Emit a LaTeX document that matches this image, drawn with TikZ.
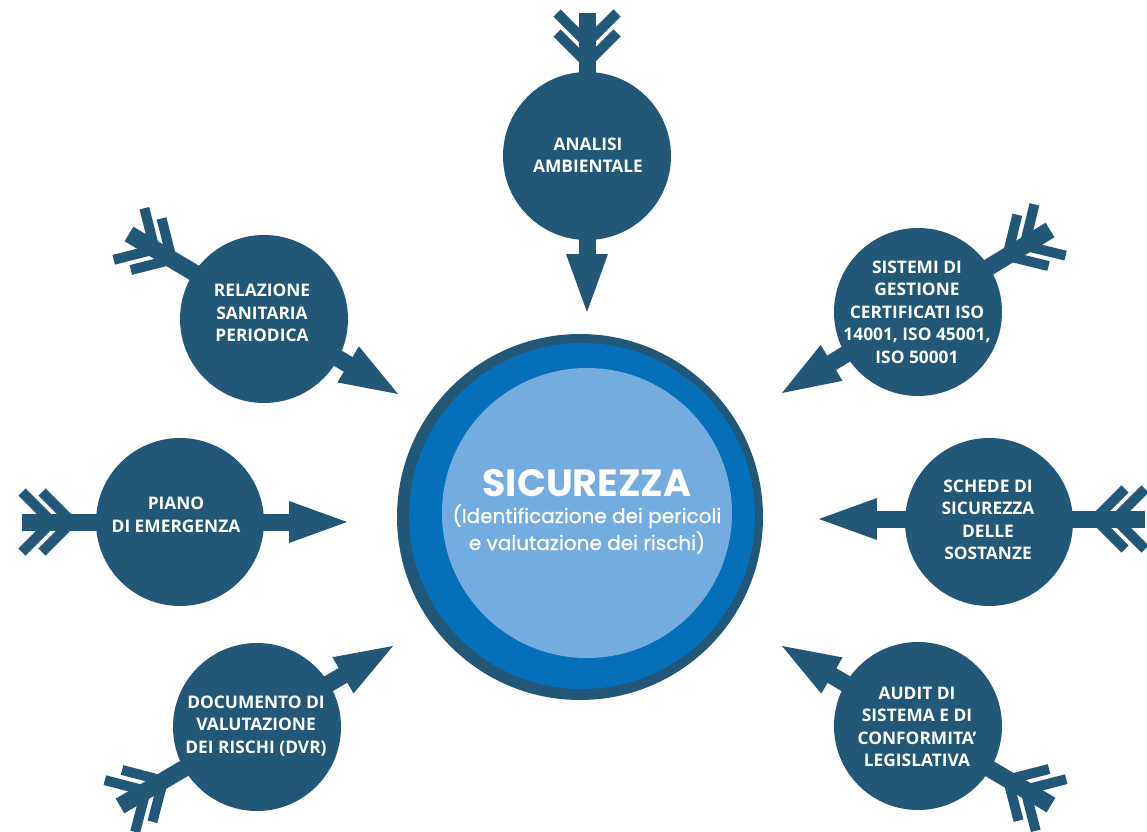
\documentclass[tikz,border=0pt]{standalone}
\usepackage{fontspec}
\setmainfont{Open Sans}
\newfontfamily\popfont{Poppins}
\newfontfamily\popsub{Poppins}[FakeBold=0.8]
\usetikzlibrary{calc}
\definecolor{nodeblue}{RGB}{34,87,120}
\definecolor{ringblue}{RGB}{5,112,185}
\definecolor{lightblue}{RGB}{116,172,223}
\tikzset{
  satellite/.style={circle, fill=nodeblue, minimum size=126pt, inner sep=0pt},
  sattext/.style={text=white, align=center, inner sep=0pt,
    font=\bfseries\fontsize{13}{16.9}\selectfont},
  arrowbody/.style={fill=nodeblue},
  fletch/.style={draw=nodeblue, line width=7.5pt, line join=miter, line cap=butt},
  subline/.style={text=white, anchor=base, inner sep=0pt, font=\popsub\fontsize{15}{18}\selectfont},
}
\newcommand\fletchedarrow[2]{%
  \path let \p1=($(#2)-(#1)$) in \pgfextra{%
    \pgfmathsetmacro\tmpang{atan2(\y1,\x1)}%
    \pgfmathsetmacro\tmplen{veclen(\x1,\y1)/0.75}%
    \global\let\Arrang\tmpang \global\let\Arrlen\tmplen};
  \begin{scope}[shift={(#1)}, rotate=\Arrang, x=0.75pt, y=0.75pt]
    \fill[arrowbody] (0,-8.5) rectangle (\Arrlen-57,8.5);
    \fill[arrowbody] (\Arrlen-58,-21) -- (\Arrlen,0) -- (\Arrlen-58,21) -- cycle;
    \draw[fletch] (0,30) -- (30,0) -- (0,-30);
    \draw[fletch] (20,30) -- (50,0) -- (20,-30);
  \end{scope}}
\begin{document}
\begin{tikzpicture}[x=0.75pt, y=-0.75pt]
  \useasboundingbox (0,0) rectangle (1147,832);
  % arrow end points
  \coordinate (analisi-tail) at (587,13);    \coordinate (analisi-tip) at (587,312);
  \coordinate (relazione-tail) at (129,234); \coordinate (relazione-tip) at (398,394);
  \coordinate (sistemi-tail) at (1050,230);  \coordinate (sistemi-tip) at (782,393);
  \coordinate (piano-tail) at (22,522);      \coordinate (piano-tip) at (347,522);
  \coordinate (schede-tail) at (1145,519);   \coordinate (schede-tip) at (819,519);
  \coordinate (documento-tail) at (120,806); \coordinate (documento-tip) at (393,646);
  \coordinate (audit-tail) at (1051,805);    \coordinate (audit-tip) at (782,646);
  \begin{scope}
    \clip (0,0) rectangle (1147,832);
    \fletchedarrow{analisi-tail}{analisi-tip}
    \fletchedarrow{relazione-tail}{relazione-tip}
    \fletchedarrow{sistemi-tail}{sistemi-tip}
    \fletchedarrow{piano-tail}{piano-tip}
    \fletchedarrow{schede-tail}{schede-tip}
    \fletchedarrow{documento-tail}{documento-tip}
    \fletchedarrow{audit-tail}{audit-tip}
  \end{scope}
  % central circle
  \node[circle, fill=nodeblue, minimum size=274.5pt, inner sep=0pt] (outer) at (580,517) {};
  \node[circle, fill=ringblue, minimum size=259.5pt, inner sep=0pt] (ring) at (582,516) {};
  \node[circle, fill=lightblue, minimum size=217.5pt, inner sep=0pt] (core) at (587,513) {};
  \node[text=white, anchor=base, inner sep=0pt, font=\popfont\bfseries\fontsize{28.5}{30}\selectfont] (title) at (587,496) {SICUREZZA};
  \node[subline] (sub1) at (587,523) {(Identificazione dei pericoli};
  \node[subline] (sub2) at (587,550) {e valutazione dei rischi)};
  % satellites
  \node[satellite] (analisi) at (587,156) {};
  \node[sattext] (analisi-t) at (588,155) {ANALISI\\AMBIENTALE};
  \node[satellite] (relazione) at (264,319) {};
  \node[sattext] (relazione-t) at (262,313) {RELAZIONE\\SANITARIA\\PERIODICA};
  \node[satellite] (sistemi) at (918,312) {};
  \node[sattext] (sistemi-t) at (917,312) {SISTEMI DI\\GESTIONE\\CERTIFICATI ISO\\14001, ISO 45001,\\ISO 50001};
  \node[satellite] (piano) at (180,522) {};
  \node[sattext] (piano-t) at (176,515) {PIANO\\DI EMERGENZA};
  \node[satellite] (schede) at (989,522) {};
  \node[sattext] (schede-t) at (988,520) {SCHEDE DI\\SICUREZZA\\DELLE\\SOSTANZE};
  \node[satellite] (documento) at (257,727) {};
  \node[sattext] (documento-t) at (256,726) {DOCUMENTO DI\\VALUTAZIONE\\DEI RISCHI (DVR)};
  \node[satellite] (audit) at (918,726) {};
  \node[sattext] (audit-t) at (917,727) {AUDIT DI\\SISTEMA E DI\\CONFORMITA’\\LEGISLATIVA};
\end{tikzpicture}
\end{document}
